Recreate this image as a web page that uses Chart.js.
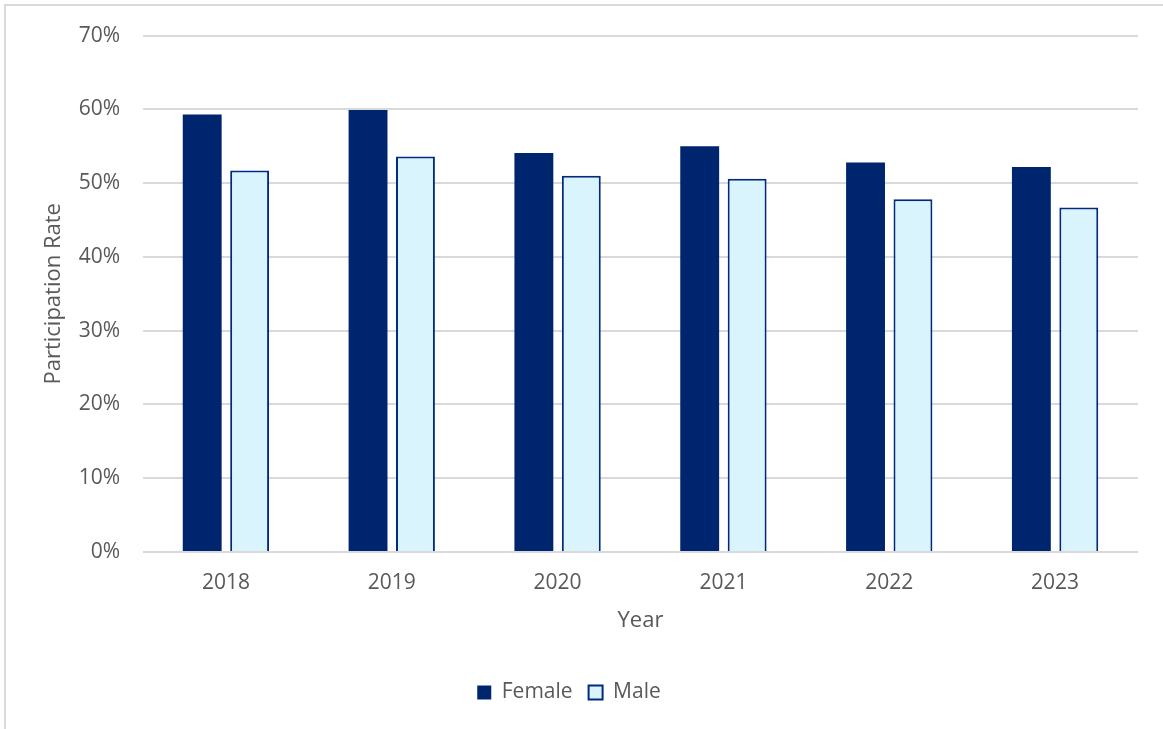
<!DOCTYPE html>
<html>
<head>
<meta charset="utf-8">
<script src="https://cdn.jsdelivr.net/npm/chart.js@4"></script>
<style>
    body { margin: 0; background: #fff; overflow: hidden; }
    #wrap { position: relative; width: 1163px; height: 729px; }
    #frame {
        position: absolute; left: 4px; top: 4px;
        width: 1180px; height: 760px;
        border: 2px solid #d9d9d9;
    }
    #participation_chart { position: absolute; left: 0; top: 0; }
</style>
</head>
<body>
<div id="wrap">
    <div id="frame"></div>
    <canvas id="participation_chart" width="1163" height="729"></canvas>
</div>
<script>
// participation rate by year, in percent
const years = ['2018', '2019', '2020', '2021', '2022', '2023'];
const female = [59.3, 59.9, 54.1, 55.0, 52.8, 52.2];
const male = [51.7, 53.6, 51.0, 50.6, 47.8, 46.7];
const yTicks = ['0%', '10%', '20%', '30%', '40%', '50%', '60%', '70%'];

const textColor = '#595959';
const gridColor = '#d9d9d9';
const fontFamily = "'Open Sans', 'Noto Sans', sans-serif";

(() => {
    let canvas = document.querySelector('#participation_chart');

    let chartData = {
        labels: years,
        datasets: [{
            label: 'Female',
            data: female,
            backgroundColor: '#00256f',
            borderColor: '#00256f',
            borderWidth: 0
        }, {
            label: 'Male',
            data: male,
            backgroundColor: '#d9f4fc',
            borderColor: '#002a80',
            borderWidth: 2
        }]
    }

    let chartOptions = {
        responsive: false,
        animation: false,
        categoryPercentage: 0.572,
        barPercentage: 0.82,
        layout: {
            padding: { top: 33, right: 25, left: 0, bottom: 16 }
        },
        scales: {
            x: {
                grid: { display: false, drawTicks: false },
                border: { display: false },
                ticks: {
                    color: textColor,
                    padding: 18,
                    font: { family: fontFamily, size: 21 }
                },
                title: {
                    display: true,
                    text: 'Year',
                    color: textColor,
                    font: { family: fontFamily, size: 22 },
                    padding: { top: 0, bottom: 32 }
                },
                // fixed height leaves room between the axis title and the legend
                afterFit: (scale) => { scale.height = 114 }
            },
            y: {
                min: 0,
                max: 70,
                grid: {
                    color: gridColor,
                    lineWidth: 2,
                    drawTicks: false
                },
                border: { display: false },
                ticks: {
                    stepSize: 10,
                    color: textColor,
                    padding: 23,
                    font: { family: fontFamily, size: 21 },
                    callback: (value) => yTicks[value / 10]
                },
                title: {
                    display: true,
                    text: 'Participation Rate',
                    color: textColor,
                    font: { family: fontFamily, size: 22 },
                    padding: { top: 41, bottom: 0 }
                },
                afterFit: (scale) => { scale.width = 143 }
            }
        },
        plugins: {
            legend: {
                position: 'bottom',
                labels: {
                    color: textColor,
                    boxWidth: 14,
                    boxHeight: 14,
                    padding: 16,
                    font: { family: fontFamily, size: 21 }
                }
            },
            tooltip: { enabled: false }
        }
    }

    new Chart(canvas, {
        type: 'bar',
        data: chartData,
        options: chartOptions
    })
})()
</script>
</body>
</html>
